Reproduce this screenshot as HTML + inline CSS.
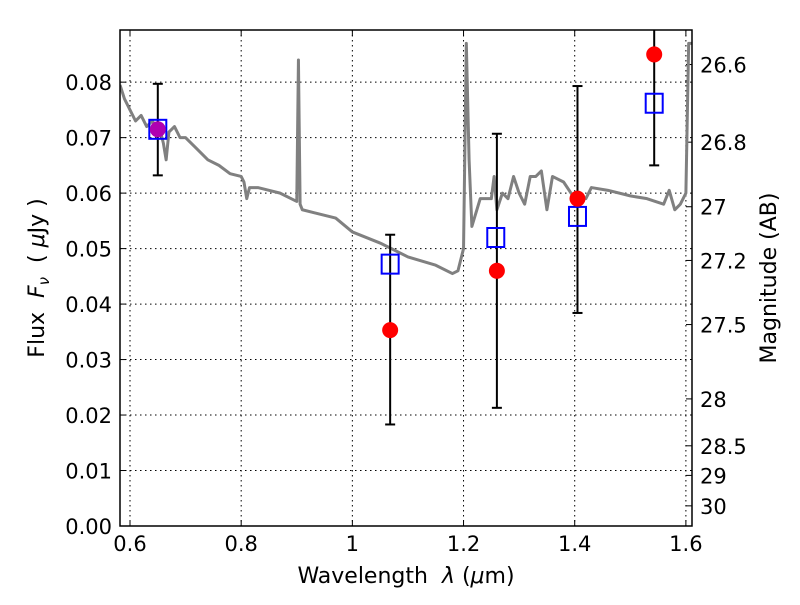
<!DOCTYPE html>
<html><head><meta charset="utf-8"><style>
body{margin:0;background:#fff;}
text{font-family:"DejaVu Sans","Liberation Sans",sans-serif;white-space:pre;}
</style></head><body>
<svg id="chart" width="800" height="600" xmlns="http://www.w3.org/2000/svg"></svg>
<script>
const specX=[0.582,0.59,0.60,0.61,0.62,0.63,0.64,0.655,0.66,0.665,0.67,0.68,0.69,0.70,0.72,0.74,0.76,0.78,0.80,0.805,0.81,0.815,0.83,0.85,0.87,0.89,0.90,0.903,0.906,0.91,0.93,0.95,0.97,1.0,1.05,1.10,1.15,1.18,1.19,1.20,1.205,1.21,1.215,1.23,1.24,1.25,1.255,1.26,1.27,1.28,1.29,1.30,1.31,1.32,1.33,1.34,1.35,1.36,1.38,1.40,1.42,1.43,1.46,1.50,1.53,1.56,1.57,1.58,1.59,1.60,1.605,1.611];
const specY=[0.0795,0.077,0.075,0.073,0.074,0.072,0.073,0.071,0.069,0.066,0.071,0.072,0.070,0.070,0.068,0.066,0.065,0.0635,0.063,0.062,0.059,0.061,0.061,0.0605,0.060,0.059,0.0585,0.084,0.058,0.057,0.0565,0.056,0.0555,0.053,0.051,0.0485,0.047,0.0455,0.046,0.050,0.087,0.066,0.054,0.059,0.059,0.059,0.063,0.057,0.060,0.059,0.063,0.060,0.058,0.063,0.063,0.064,0.057,0.063,0.062,0.059,0.059,0.061,0.0605,0.0595,0.059,0.058,0.0605,0.057,0.058,0.060,0.087,0.087];
const obsX=[0.65,1.068,1.26,1.405,1.543];
const obsY=[0.0715,0.0353,0.046,0.059,0.085];
const errLo=[0.0632,0.0183,0.0213,0.0384,0.065];
const errHi=[0.0797,0.0525,0.0707,0.0793,0.105];
const modX=[0.65,1.068,1.258,1.405,1.543];
const modY=[0.0715,0.0472,0.052,0.0558,0.0762];
const xTicks=[0.6,0.8,1.0,1.2,1.4,1.6];
const xTickLabels=["0.6","0.8","1","1.2","1.4","1.6"];
const yTicks=[0,0.01,0.02,0.03,0.04,0.05,0.06,0.07,0.08];
const magTicks=[26.6,26.8,27,27.2,27.5,28,28.5,29,30];

const L=120,R=692,T=30,B=526,xmin=0.582,xmax=1.611,ymin=0,ymax=0.0894;
const sx=v=>L+(v-xmin)/(xmax-xmin)*(R-L);
const sy=v=>B-(v-ymin)/(ymax-ymin)*(B-T);
const svg=document.getElementById('chart');
const NS="http://www.w3.org/2000/svg";
function mk(tag,attrs,parent){const e=document.createElementNS(NS,tag);for(const k in attrs)e.setAttribute(k,attrs[k]);(parent||svg).appendChild(e);return e;}

xTicks.forEach((t,i)=>{
 const x=sx(t);
 const g=mk('line',{x1:x,x2:x,y1:T,y2:B,stroke:'#000','stroke-dasharray':'1.5,3.5','stroke-width':1});
 
 mk('line',{x1:x,x2:x,y1:B,y2:B-6,stroke:'#000'});mk('line',{x1:x,x2:x,y1:T,y2:T+6,stroke:'#000'});
 const tx=mk('text',{x:x,y:B+25,'text-anchor':'middle','font-size':21});tx.textContent=xTickLabels[i];
 
});
yTicks.forEach(t=>{
 const y=sy(t);
 if(t>0){const g=mk('line',{x1:L,x2:R,y1:y,y2:y,stroke:'#000','stroke-dasharray':'1.5,3.5','stroke-width':1});
 }
 mk('line',{x1:L,x2:L+6,y1:y,y2:y,stroke:'#000'});
 const tx=mk('text',{x:L-8,y:y+8,'text-anchor':'end','font-size':21});tx.textContent=t.toFixed(2);
 
});
magTicks.forEach(m=>{
 const f=Math.pow(10,(23.9-m)/2.5);const y=sy(f);
 mk('line',{x1:R,x2:R-6,y1:y,y2:y,stroke:'#000'});
 const tx=mk('text',{x:R+8,y:y+8,'font-size':21});tx.textContent=String(m);
 
});

const clip=mk('clipPath',{id:'c'});mk('rect',{x:L,y:T,width:R-L,height:B-T},clip);
const p=mk('polyline',{points:specX.map((x,i)=>sx(x)+','+sy(specY[i])).join(' '),fill:'none',stroke:'#808080','stroke-width':3,'stroke-linejoin':'round','clip-path':'url(#c)'});


obsX.forEach((x,i)=>{
 const X=sx(x);
 const e=mk('g',{'clip-path':'url(#c)'});
 
 mk('line',{x1:X,x2:X,y1:sy(errLo[i]),y2:sy(errHi[i]),stroke:'#000','stroke-width':2},e);
 mk('line',{x1:X-5,x2:X+5,y1:sy(errLo[i]),y2:sy(errLo[i]),stroke:'#000','stroke-width':2},e);
 mk('line',{x1:X-5,x2:X+5,y1:sy(errHi[i]),y2:sy(errHi[i]),stroke:'#000','stroke-width':2},e);
});
modX.forEach((x,i)=>{
 const r=mk('rect',{x:sx(x)-8.5,y:sy(modY[i])-9.5,width:17,height:19,fill:'none',stroke:'#0000ff','stroke-width':2});
 
});
obsX.forEach((x,i)=>{
 const c=mk('circle',{cx:sx(x),cy:sy(obsY[i]),r:8,fill:i===0?'#b000b0':'#ff0000'});
 
});

const fr=mk('rect',{x:L,y:T,width:R-L,height:B-T,fill:'none',stroke:'#000','stroke-width':1.5});

const xl=mk('text',{x:406,y:583,'text-anchor':'middle','font-size':22});
xl.innerHTML='Wavelength  <tspan font-style="italic">λ</tspan> (<tspan font-style="italic">μ</tspan>m)';

const yl=mk('text',{x:44,y:278,'text-anchor':'middle','font-size':22,transform:'rotate(-90 44 278)'});
yl.innerHTML='Flux  <tspan font-style="italic">F</tspan><tspan font-style="italic" font-size="15" dy="5">ν</tspan><tspan dy="-5">  ( </tspan><tspan font-style="italic">μ</tspan>Jy )';

const ml=mk('text',{x:776,y:278,'text-anchor':'middle','font-size':22,transform:'rotate(-90 776 278)'});
ml.textContent='Magnitude (AB)';

</script>
</body></html>
